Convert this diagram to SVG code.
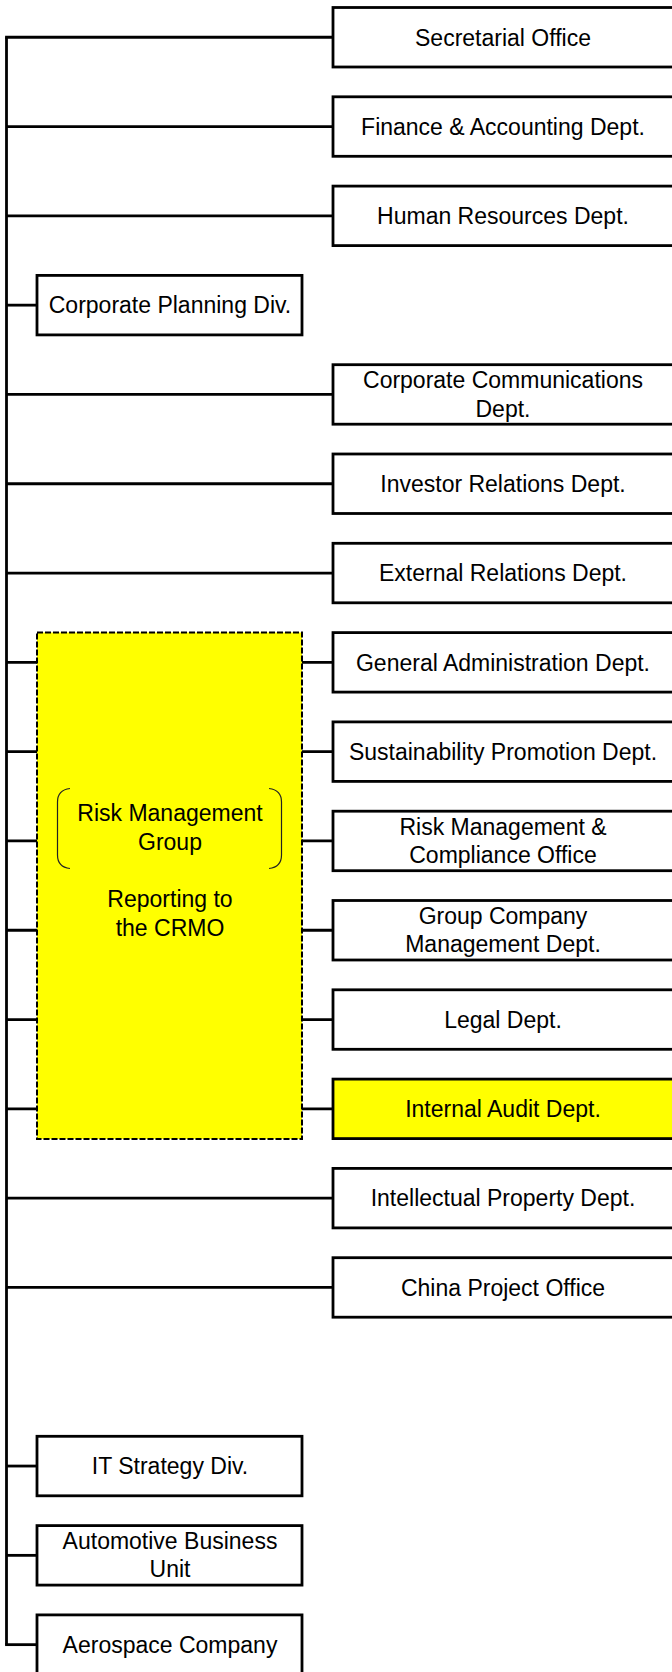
<svg xmlns="http://www.w3.org/2000/svg" width="672" height="1672" viewBox="0 0 672 1672">
<style>
.bg{fill:#fff}
.ln{stroke:#000;stroke-width:2.8;fill:none}
.box{fill:#fff;stroke:#000;stroke-width:2.8}
.hl{fill:#ffff00;stroke:#000;stroke-width:2.8}
.grp{fill:#ffff00;stroke:#000;stroke-width:2;stroke-dasharray:6 2}
.br{fill:none;stroke:#222;stroke-width:1.2}
text{font-family:"Liberation Sans",Arial,sans-serif;font-size:23px;fill:#000;text-anchor:middle}
</style>
<rect class="bg" x="0" y="0" width="672" height="1672"/>
<g id="connectors">
<path class="ln" d="M6.5,37.25 V1644.65"/>
<path class="ln" d="M5.1,37.25 H333"/>
<path class="ln" d="M6.5,126.55 H333"/>
<path class="ln" d="M6.5,215.85 H333"/>
<path class="ln" d="M6.5,305.15 H37"/>
<path class="ln" d="M6.5,394.45 H333"/>
<path class="ln" d="M6.5,483.75 H333"/>
<path class="ln" d="M6.5,573.05 H333"/>
<path class="ln" d="M6.5,662.35 H37 M302,662.35 H333"/>
<path class="ln" d="M6.5,751.65 H37 M302,751.65 H333"/>
<path class="ln" d="M6.5,840.95 H37 M302,840.95 H333"/>
<path class="ln" d="M6.5,930.25 H37 M302,930.25 H333"/>
<path class="ln" d="M6.5,1019.55 H37 M302,1019.55 H333"/>
<path class="ln" d="M6.5,1108.85 H37 M302,1108.85 H333"/>
<path class="ln" d="M6.5,1198.15 H333"/>
<path class="ln" d="M6.5,1287.45 H333"/>
<path class="ln" d="M6.5,1466.05 H37"/>
<path class="ln" d="M6.5,1555.35 H37"/>
<path class="ln" d="M5.1,1644.65 H37"/>
</g>
<g id="risk-management-group">
<rect class="grp" x="37" y="632.5" width="265" height="506.5"/>
<path class="br" d="M70,788.5 Q57.5,790 57.5,802 V855 Q57.5,867 70,868.5"/>
<path class="br" d="M269,788.5 Q281.5,790 281.5,802 V855 Q281.5,867 269,868.5"/>
<text x="170" y="821">Risk Management</text>
<text x="170" y="849.5">Group</text>
<text x="170" y="907">Reporting to</text>
<text x="170" y="935.5">the CRMO</text>
</g>
<g id="secretarial-office"><rect class="box" x="333" y="7.5" width="345" height="59.5"/><text x="503" y="45.5">Secretarial Office</text></g>
<g id="finance-accounting"><rect class="box" x="333" y="96.8" width="345" height="59.5"/><text x="503" y="134.8">Finance &amp; Accounting Dept.</text></g>
<g id="human-resources"><rect class="box" x="333" y="186.1" width="345" height="59.5"/><text x="503" y="224.1">Human Resources Dept.</text></g>
<g id="corporate-planning"><rect class="box" x="37" y="275.4" width="265" height="59.5"/><text x="170" y="313.4">Corporate Planning Div.</text></g>
<g id="corporate-communications"><rect class="box" x="333" y="364.7" width="345" height="59.5"/><text x="503" y="388">Corporate Communications</text><text x="503" y="416.5">Dept.</text></g>
<g id="investor-relations"><rect class="box" x="333" y="454" width="345" height="59.5"/><text x="503" y="492">Investor Relations Dept.</text></g>
<g id="external-relations"><rect class="box" x="333" y="543.3" width="345" height="59.5"/><text x="503" y="581.3">External Relations Dept.</text></g>
<g id="general-administration"><rect class="box" x="333" y="632.6" width="345" height="59.5"/><text x="503" y="670.6">General Administration Dept.</text></g>
<g id="sustainability-promotion"><rect class="box" x="333" y="721.9" width="345" height="59.5"/><text x="503" y="759.9">Sustainability Promotion Dept.</text></g>
<g id="risk-compliance"><rect class="box" x="333" y="811.2" width="345" height="59.5"/><text x="503" y="834.5">Risk Management &amp;</text><text x="503" y="863">Compliance Office</text></g>
<g id="group-company-management"><rect class="box" x="333" y="900.5" width="345" height="59.5"/><text x="503" y="923.8">Group Company</text><text x="503" y="952.3">Management Dept.</text></g>
<g id="legal"><rect class="box" x="333" y="989.8" width="345" height="59.5"/><text x="503" y="1027.8">Legal Dept.</text></g>
<g id="internal-audit"><rect class="hl" x="333" y="1079.1" width="345" height="59.5"/><text x="503" y="1117.1">Internal Audit Dept.</text></g>
<g id="intellectual-property"><rect class="box" x="333" y="1168.4" width="345" height="59.5"/><text x="503" y="1206.4">Intellectual Property Dept.</text></g>
<g id="china-project"><rect class="box" x="333" y="1257.7" width="345" height="59.5"/><text x="503" y="1295.7">China Project Office</text></g>
<g id="it-strategy"><rect class="box" x="37" y="1436.3" width="265" height="59.5"/><text x="170" y="1474.3">IT Strategy Div.</text></g>
<g id="automotive-business"><rect class="box" x="37" y="1525.6" width="265" height="59.5"/><text x="170" y="1548.5">Automotive Business</text><text x="170" y="1577">Unit</text></g>
<g id="aerospace"><rect class="box" x="37" y="1614.9" width="265" height="59.5"/><text x="170" y="1652.9">Aerospace Company</text></g>
</svg>
